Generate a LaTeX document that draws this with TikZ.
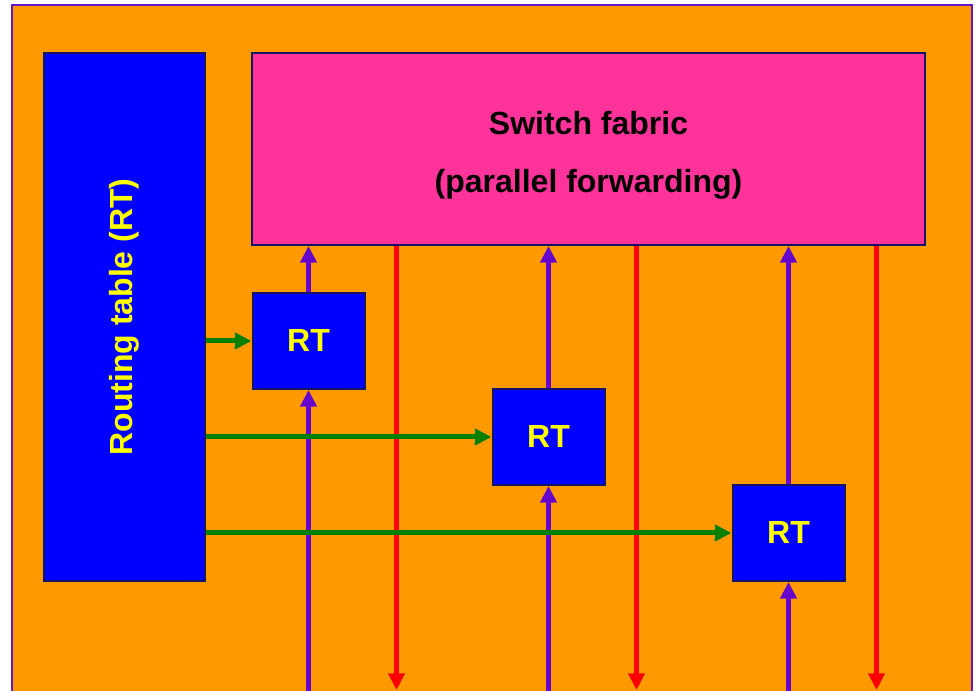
\documentclass[tikz,border=0pt]{standalone}
\usepackage{fontspec}
\setmainfont{Liberation Sans}
\usetikzlibrary{arrows.meta}

\definecolor{frameorange}{HTML}{FF9900}
\definecolor{framepurple}{HTML}{6A14C8}
\definecolor{boxline}{HTML}{141464}
\definecolor{tableblue}{HTML}{0000FF}
\definecolor{fabricpink}{HTML}{FF3399}
\definecolor{fwdpurple}{HTML}{6600CC}
\definecolor{fwdred}{HTML}{FF0000}
\definecolor{lookgreen}{HTML}{008000}
\definecolor{rtyellow}{HTML}{FFFF00}

\begin{document}
\begin{tikzpicture}[
            x=.75pt, y=.75pt,
            box/.style={draw=boxline, line width=1.5pt, inner sep=0pt},
            lbl/.style={font=\fontsize{24}{43.5}\selectfont\bfseries},
            rtbox/.style={box, lbl, fill=tableblue, text=rtyellow,
                minimum width=84pt, minimum height=72pt},
            upline/.style={draw=fwdpurple, line width=3.75pt,
                -{Triangle[length=12.5pt, width=12pt]}},
            downline/.style={draw=fwdred, line width=3.75pt,
                -{Triangle[length=12.5pt, width=12pt]}},
            lookup/.style={draw=lookgreen, line width=3.75pt,
                -{Triangle[length=12.5pt, width=12pt]}},
        ]
            \clip (0,0) rectangle (976,691);
            %% orange backdrop, its lower edge runs off the page
            \draw[draw=framepurple, fill=frameorange, line width=2.2pt]
                (12,686) rectangle (972,-20);

            \node[box, fill=tableblue, minimum width=120.75pt,
                minimum height=396pt] (rtable) at (124.5,374) {};
            \node[lbl, rotate=90, text=rtyellow] (rtlabel) at (rtable.center)
                {Routing table (RT)};

            \node[box, fill=fabricpink, minimum width=504.75pt,
                minimum height=144pt] (fabric) at (588.5,542) {};
            \node[lbl, align=center] (fabriclabel) at (588.5,536)
                {Switch fabric\\(parallel forwarding)};

            %% one line card per column: lookup, in (purple) and out (red)
            \foreach \i/\x/\y in {1/308.5/350, 2/548.5/254, 3/788.5/158}{
                \node[rtbox] (rt\i) at (\x,\y) {RT};
                \coordinate (in\i) at (\x,-5);
                \coordinate (out\i) at (\x+88,1);
                \draw[upline] (in\i) -- (rt\i);
                \draw[upline] (rt\i) -- (rt\i |- fabric.south);
                \draw[downline] (fabric.south -| out\i) -- (out\i);
                \draw[lookup] (rt\i -| rtable.east) -- (rt\i);
            }
        \end{tikzpicture}
\end{document}
